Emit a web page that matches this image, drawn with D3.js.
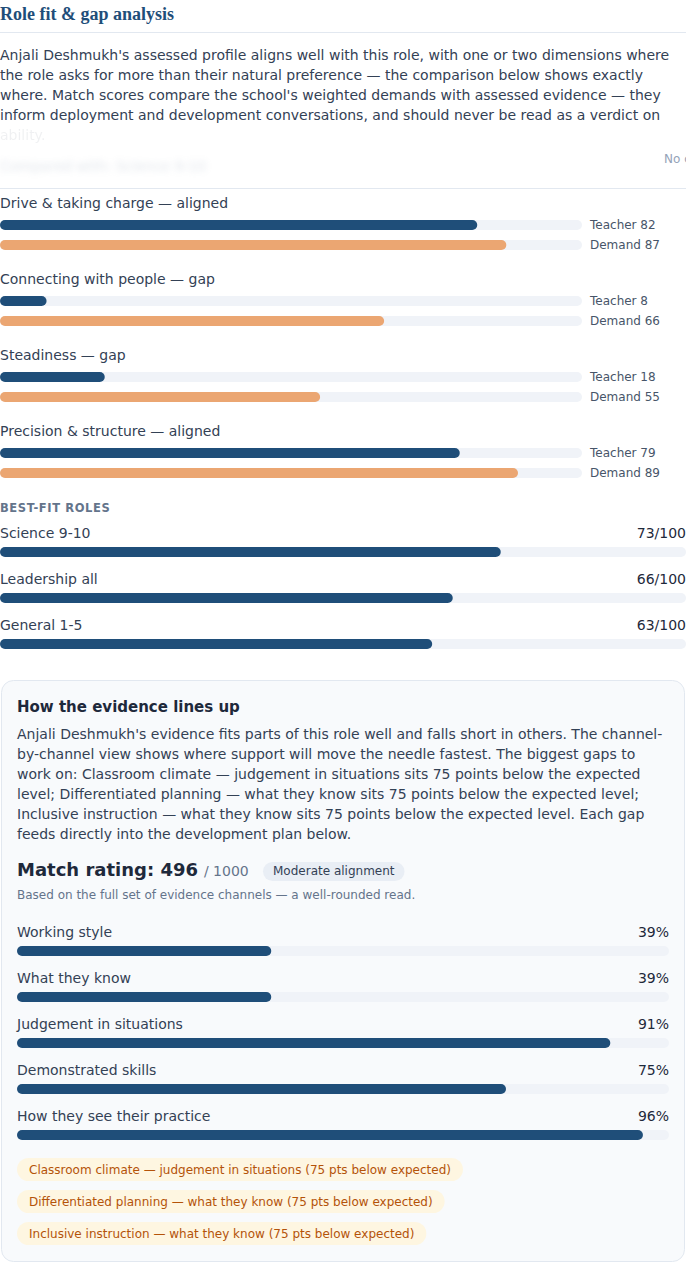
<!DOCTYPE html>
<html><head><meta charset="utf-8">
<script src="https://cdn.jsdelivr.net/npm/d3@7/dist/d3.min.js"></script>
<style>
html,body{margin:0;padding:0;background:#fff;overflow:hidden;}
svg{display:block;font-family:"DejaVu Sans",sans-serif;}
</style></head><body>
<svg id="c" width="686" height="1264"></svg>
<script>
// ---------- data ----------
const titleText = "Role fit & gap analysis";
const introLines = [
  "Anjali Deshmukh's assessed profile aligns well with this role, with one or two dimensions where",
  "the role asks for more than their natural preference \u2014 the comparison below shows exactly",
  "where. Match scores compare the school's weighted demands with assessed evidence \u2014 they",
  "inform deployment and development conversations, and should never be read as a verdict on",
  "ability."
];
const dimNames = ["Drive & taking charge", "Connecting with people", "Steadiness", "Precision & structure"];
const dimStatus = ["aligned", "gap", "gap", "aligned"];
const teacherScores = [82, 8, 18, 79];
const demandScores = [87, 66, 55, 89];
const seriesLabels = ["Teacher", "Demand"];

const roleNames = ["Science 9-10", "Leadership all", "General 1-5"];
const roleScores = [73, 66, 63];

const evidenceTitle = "How the evidence lines up";
const evidenceLines = [
  "Anjali Deshmukh's evidence fits parts of this role well and falls short in others. The channel-",
  "by-channel view shows where support will move the needle fastest. The biggest gaps to",
  "work on: Classroom climate \u2014 judgement in situations sits 75 points below the expected",
  "level; Differentiated planning \u2014 what they know sits 75 points below the expected level;",
  "Inclusive instruction \u2014 what they know sits 75 points below the expected level. Each gap",
  "feeds directly into the development plan below."
];
const matchRating = 496;
const matchMax = 1000;
const matchBand = "Moderate alignment";
const matchNote = "Based on the full set of evidence channels \u2014 a well-rounded read.";
const channelNames = ["Working style", "What they know", "Judgement in situations", "Demonstrated skills", "How they see their practice"];
const channelPct = [39, 39, 91, 75, 96];
const gapTags = [
  "Classroom climate \u2014 judgement in situations (75 pts below expected)",
  "Differentiated planning \u2014 what they know (75 pts below expected)",
  "Inclusive instruction \u2014 what they know (75 pts below expected)"
];

// ---------- styles ----------
const NAVY = "#1f4e79", ORANGE = "#eba672", TRACK = "#f0f3f8";
const TXT = "#334155", DARK = "#1e293b", MUTED = "#64748b";

const svg = d3.select("#c");
const defs = svg.append("defs");
defs.append("filter").attr("id", "blur").attr("x", "-10%").attr("y", "-80%").attr("width", "120%").attr("height", "260%")
  .append("feGaussianBlur").attr("stdDeviation", 3.5);

// Title
svg.append("text").attr("x", 0).attr("y", 20)
  .attr("font-family", "'Liberation Serif', serif").attr("font-weight", "bold").attr("font-size", 18)
  .attr("fill", NAVY).text(titleText);
svg.append("line").attr("x1", 0).attr("x2", 686).attr("y1", 32.5).attr("y2", 32.5).attr("stroke", "#e2e8f0");

// Intro paragraph
svg.append("g").selectAll("text").data(introLines).join("text")
  .attr("x", 0).attr("y", (d, i) => 55 + i * 20).attr("dy", "0.35em")
  .attr("font-size", 14).attr("fill", TXT)
  .attr("opacity", (d, i) => i === introLines.length - 1 ? 0.07 : 1)
  .text(d => d);

// faded / clipped row
svg.append("text").attr("x", 0).attr("y", 166).attr("dy", "0.35em").attr("font-size", 14)
  .attr("fill", "#94a3b8").attr("opacity", 0.3).attr("filter", "url(#blur)").text("Compared with: Science 9-10");
svg.append("text").attr("x", 664).attr("y", 159).attr("dy", "0.35em").attr("font-size", 12)
  .attr("fill", "#94a3b8").text("No comparison");
svg.append("line").attr("x1", 0).attr("x2", 686).attr("y1", 188.5).attr("y2", 188.5).attr("stroke", "#e2e8f0");

// Dimension comparison
const xDim = d3.scaleLinear().domain([0, 100]).range([0, 582]);
const dimG = svg.append("g").selectAll("g").data(dimNames).join("g")
  .attr("transform", (d, i) => `translate(0,${203 + i * 76})`);
dimG.append("text").attr("y", 0).attr("dy", "0.35em").attr("font-size", 14).attr("fill", TXT)
  .text((d, i) => `${d} \u2014 ${dimStatus[i]}`);
dimG.each(function (d, i) {
  const g = d3.select(this);
  const vals = [teacherScores[i], demandScores[i]];
  const cols = [NAVY, ORANGE];
  vals.forEach((v, j) => {
    const y = 17 + j * 20;
    g.append("rect").attr("x", xDim(0)).attr("y", y).attr("width", xDim(100)).attr("height", 10)
      .attr("rx", 5).attr("fill", TRACK);
    g.append("rect").attr("x", xDim(0)).attr("y", y).attr("width", xDim(v)).attr("height", 10)
      .attr("rx", 5).attr("fill", cols[j]);
    g.append("text").attr("x", 590).attr("y", y + 5).attr("dy", "0.35em").attr("font-size", 12)
      .attr("fill", "#475569").text(`${seriesLabels[j]} ${v}`);
  });
});

// Best-fit roles
svg.append("text").attr("x", 0).attr("y", 508).attr("dy", "0.35em").attr("font-size", 11.5)
  .attr("font-weight", "bold").attr("letter-spacing", 0.6).attr("fill", MUTED).text("BEST-FIT ROLES");
const xRole = d3.scaleLinear().domain([0, 100]).range([0, 686]);
const roleG = svg.append("g").selectAll("g").data(roleNames).join("g")
  .attr("transform", (d, i) => `translate(0,${533 + i * 46})`);
roleG.append("text").attr("dy", "0.35em").attr("font-size", 14).attr("fill", TXT).text(d => d);
roleG.append("text").attr("x", 686).attr("text-anchor", "end").attr("dy", "0.35em").attr("font-size", 14)
  .attr("fill", DARK).text((d, i) => `${roleScores[i]}/100`);
roleG.append("rect").attr("x", xRole(0)).attr("y", 14).attr("width", xRole(100)).attr("height", 10).attr("rx", 5).attr("fill", TRACK);
roleG.append("rect").attr("x", xRole(0)).attr("y", 14).attr("width", (d, i) => xRole(roleScores[i])).attr("height", 10).attr("rx", 5).attr("fill", NAVY);

// Evidence box
svg.append("rect").attr("x", 1.5).attr("y", 680.5).attr("width", 683).attr("height", 581).attr("rx", 12)
  .attr("fill", "#f8fafc").attr("stroke", "#e2e8f0");
svg.append("text").attr("x", 17).attr("y", 707).attr("dy", "0.35em").attr("font-size", 15).attr("font-weight", "bold")
  .attr("fill", DARK).text(evidenceTitle);
svg.append("g").selectAll("text").data(evidenceLines).join("text")
  .attr("x", 17).attr("y", (d, i) => 734 + i * 20).attr("dy", "0.35em").attr("font-size", 14).attr("fill", TXT).text(d => d);

const mr = svg.append("text").attr("x", 17).attr("y", 870).attr("dy", "0.35em");
mr.append("tspan").attr("font-size", 18).attr("font-weight", "bold").attr("fill", DARK).text(`Match rating: ${matchRating}`);
mr.append("tspan").attr("font-size", 14).attr("fill", MUTED).attr("dx", 6).text(`/ ${matchMax}`);
const pillText = svg.append("text").attr("x", 273).attr("y", 871).attr("dy", "0.35em").attr("font-size", 12).attr("fill", TXT).text(matchBand);
const pw = pillText.node().getComputedTextLength();
svg.insert("rect", () => pillText.node()).attr("x", 263).attr("y", 862).attr("width", pw + 20).attr("height", 19).attr("rx", 9.5).attr("fill", "#e9eef5");
svg.append("text").attr("x", 17).attr("y", 895).attr("dy", "0.35em").attr("font-size", 12).attr("fill", MUTED).text(matchNote);

const xCh = d3.scaleLinear().domain([0, 100]).range([17, 669]);
const chG = svg.append("g").selectAll("g").data(channelNames).join("g")
  .attr("transform", (d, i) => `translate(0,${932 + i * 46})`);
chG.append("text").attr("x", 17).attr("dy", "0.35em").attr("font-size", 14).attr("fill", TXT).text(d => d);
chG.append("text").attr("x", 669).attr("text-anchor", "end").attr("dy", "0.35em").attr("font-size", 14)
  .attr("fill", DARK).text((d, i) => `${channelPct[i]}%`);
chG.append("rect").attr("x", xCh(0)).attr("y", 14).attr("width", xCh(100) - xCh(0)).attr("height", 10).attr("rx", 5).attr("fill", TRACK);
chG.append("rect").attr("x", xCh(0)).attr("y", 14).attr("width", (d, i) => xCh(channelPct[i]) - xCh(0)).attr("height", 10).attr("rx", 5).attr("fill", NAVY);

// Gap tags
const tagG = svg.append("g").selectAll("g").data(gapTags).join("g")
  .attr("transform", (d, i) => `translate(17,${1158 + i * 32})`);
tagG.append("rect").attr("class", "pill").attr("height", 23).attr("rx", 11.5).attr("fill", "#fef6e1");
tagG.append("text").attr("x", 12).attr("y", 11.5).attr("dy", "0.35em").attr("font-size", 12).attr("fill", "#b45309").text(d => d);
tagG.each(function () {
  const g = d3.select(this);
  const w = g.select("text").node().getComputedTextLength();
  g.select("rect").attr("width", w + 24);
});
</script>
</body></html>
